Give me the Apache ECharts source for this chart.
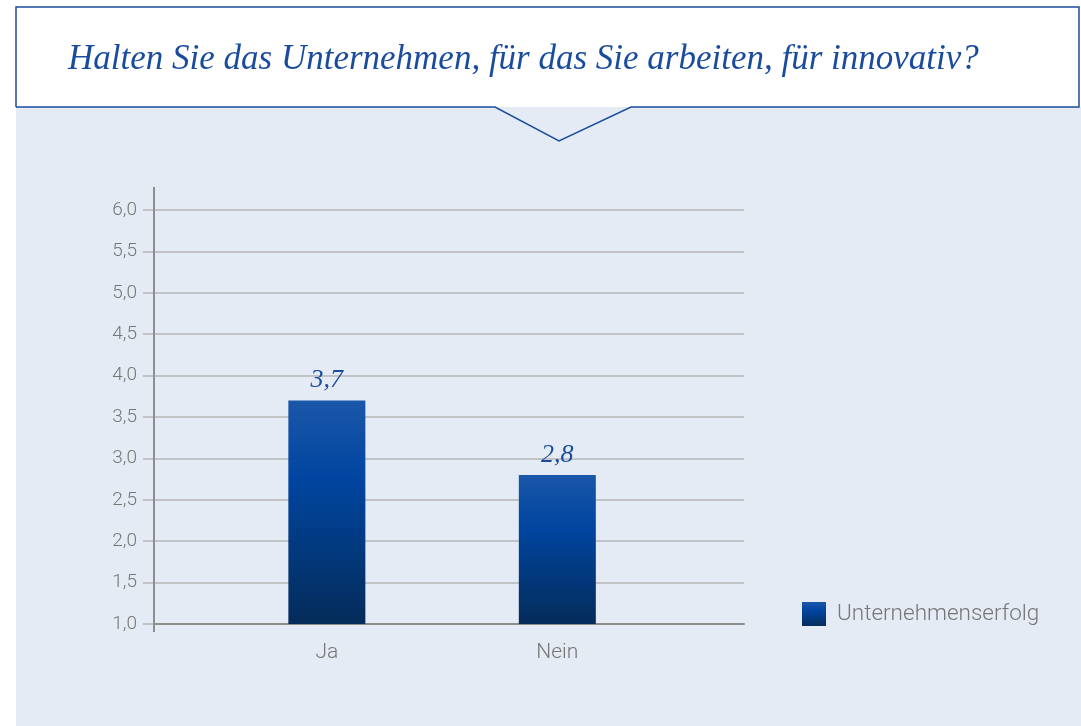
<!DOCTYPE html>
<html>
<head>
<meta charset="utf-8">
<script src="https://cdn.jsdelivr.net/npm/echarts@6/dist/echarts.min.js"></script>
<style>
  html, body { margin: 0; padding: 0; background: #fff; }
  #chart { width: 1081px; height: 726px; }
</style>
</head>
<body>
<div id="chart"></div>
<script>
// Daten
const categories = ['Ja', 'Nein'];
const values = [3.7, 2.8];
const seriesName = 'Unternehmenserfolg';
const yTicks = [1.0, 1.5, 2.0, 2.5, 3.0, 3.5, 4.0, 4.5, 5.0, 5.5, 6.0];
const titleText = 'Halten Sie das Unternehmen, für das Sie arbeiten, für innovativ?';

const fmt = v => v.toFixed(1).replace('.', ',');

const myChart = echarts.init(document.getElementById('chart'));

const barColor = new echarts.graphic.LinearGradient(0, 0, 0, 1, [
    { offset: 0, color: '#1b57a9' },
    { offset: 0.35, color: '#0045a0' },
    { offset: 1, color: '#052c5a' }
]);

const option = {
    backgroundColor: '#ffffff',
    animation: false,
    title: {
        text: titleText,
        left: 63,
        top: 37,
        textStyle: {
            fontFamily: 'Liberation Serif',
            fontStyle: 'italic',
            fontWeight: 'normal',
            fontSize: 35,
            color: '#1a4c9e'
        }
    },
    graphic: [
        // hellblauer Hintergrund
        {
            type: 'rect', z: -10,
            shape: { x: 16, y: 107, width: 1065, height: 619 },
            style: { fill: '#e5ebf5' }
        },
        // Titelbox mit Pfeil
        {
            type: 'polyline', z: -5,
            shape: { points: [[16, 107], [16, 7], [1079, 7], [1079, 107], [631, 107], [559, 141], [495, 107], [16, 107]] },
            style: { stroke: '#1a4c9e', lineWidth: 1.5, fill: null }
        },
        // y-Achsenlinie (etwas länger als das Raster)
        {
            type: 'line', z: 5,
            shape: { x1: 154, y1: 187, x2: 154, y2: 632 },
            style: { stroke: '#8e8e8e', lineWidth: 2 }
        }
    ],
    legend: {
        data: [seriesName],
        left: 797,
        top: 597,
        icon: 'rect',
        itemWidth: 24,
        itemHeight: 24,
        itemGap: 10,
        textStyle: {
            fontFamily: 'Roboto',
            fontWeight: 300,
            fontSize: 22.5,
            color: '#767676',
            padding: [5, 0, 0, 6]
        }
    },
    grid: {
        left: 154,
        right: 337,
        top: 210,
        bottom: 102
    },
    xAxis: {
        type: 'value',
        min: 0.25,
        max: 2.81,
        splitLine: { show: false },
        axisTick: { show: false },
        axisLine: { show: true, lineStyle: { color: '#8e8e8e', width: 2 } },
        axisLabel: {
            customValues: [1, 2],
            formatter: v => categories[Math.round(v) - 1] || '',
            fontFamily: 'Roboto',
            fontWeight: 300,
            fontSize: 21,
            color: '#767676',
            margin: 18
        }
    },
    yAxis: {
        type: 'value',
        min: yTicks[0],
        max: yTicks[yTicks.length - 1],
        interval: 0.5,
        axisLine: { show: false },
        axisTick: { show: true, length: 11, lineStyle: { color: '#b6b6b6', width: 1.5 } },
        splitLine: { lineStyle: { color: '#b6b6b6', width: 1.5 } },
        axisLabel: {
            formatter: fmt,
            fontFamily: 'Roboto',
            fontWeight: 300,
            fontSize: 19,
            color: '#767676',
            margin: 17,
            padding: [0, 0, 14, 0]
        }
    },
    series: [
        {
            name: seriesName,
            type: 'bar',
            barWidth: 77,
            data: values.map((v, i) => [i + 1, v]),
            itemStyle: { color: barColor },
            label: {
                show: true,
                position: 'top',
                distance: 7,
                formatter: p => fmt(p.value[1]),
                fontFamily: 'Liberation Serif',
                fontStyle: 'italic',
                fontSize: 26,
                color: '#1a4c9e'
            }
        }
    ]
};

myChart.setOption(option);

window.addEventListener('resize', function () {
    myChart.resize();
});
</script>
</body>
</html>
